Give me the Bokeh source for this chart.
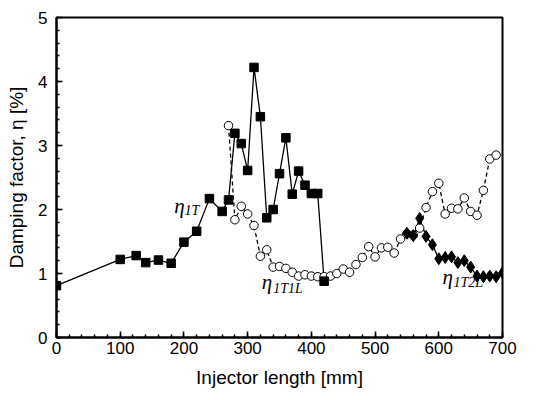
from bokeh.plotting import figure
from bokeh.models import Range1d, SingleIntervalTicker
from bokeh.core.properties import value
from bokeh.embed import file_html
from bokeh.resources import INLINE

# eta_1T (filled squares, solid line)
x_1t = [0, 100, 125, 140, 160, 180, 200, 220, 240, 260, 270, 280, 290, 300, 310,
        320, 330, 340, 350, 360, 370, 380, 390, 400, 410, 420]
y_1t = [0.81, 1.22, 1.28, 1.17, 1.21, 1.16, 1.49, 1.66, 2.17, 1.97, 2.15, 3.19, 3.03,
        2.61, 4.22, 3.45, 1.87, 2.00, 2.56, 3.12, 2.24, 2.60, 2.38, 2.25, 2.25, 0.88]

# eta_1T1L (open circles, dashed line)
x_1t1l = [270, 280, 290, 300, 310, 320, 330, 340, 350, 360, 370, 380, 390, 400, 410,
          420, 430, 440, 450, 460, 470, 480, 490, 500, 510, 520, 530, 540, 550, 560,
          570, 580, 590, 600, 610, 620, 630, 640, 650, 660, 670, 680, 690]
y_1t1l = [3.31, 1.84, 2.05, 1.93, 1.75, 1.27, 1.37, 1.10, 1.11, 1.08, 1.02, 0.96, 0.98,
          0.96, 0.95, 0.95, 0.96, 1.00, 1.07, 1.02, 1.14, 1.25, 1.42, 1.26, 1.40, 1.41,
          1.32, 1.54, 1.62, 1.60, 1.71, 2.03, 2.28, 2.41, 1.93, 2.02, 2.01, 2.18, 1.97,
          1.91, 2.30, 2.79, 2.85]

# eta_1T2L (filled diamonds, solid line)
x_1t2l = [550, 560, 570, 580, 590, 600, 610, 620, 630, 640, 650, 660, 670, 680, 690, 700]
y_1t2l = [1.63, 1.59, 1.86, 1.58, 1.45, 1.23, 1.25, 1.26, 1.17, 1.20, 1.10, 0.96,
          0.95, 0.96, 0.95, 1.01]

# curve labels (eta symbol and its subscript)
lab_eta_x = [185, 322, 606]
lab_eta_y = [2.05, 0.86, 0.94]
lab_sub_x = [201, 340, 623]
lab_sub_y = [1.99, 0.77, 0.86]
lab_sub = ["1T", "1T1L", "1T2L"]

p = figure(width=532, height=392, x_range=Range1d(0, 700), y_range=Range1d(0, 5),
           output_backend="svg", toolbar_location=None,
           min_border_left=56, min_border_right=30, min_border_top=17, min_border_bottom=55)
p.background_fill_color = "white"
p.border_fill_color = "white"
p.outline_line_color = "black"
p.outline_line_width = 2
p.xgrid.visible = False
p.ygrid.visible = False

p.xaxis.ticker = SingleIntervalTicker(interval=100, num_minor_ticks=5)
p.yaxis.ticker = SingleIntervalTicker(interval=1, num_minor_ticks=5)
for ax in (p.xaxis[0], p.yaxis[0]):
    ax.axis_line_width = 2
    ax.axis_line_color = "black"
    ax.major_tick_in = 6
    ax.major_tick_out = 0
    ax.minor_tick_in = 3
    ax.minor_tick_out = 0
    ax.major_tick_line_width = 1.5
    ax.minor_tick_line_width = 1.5
    ax.major_label_text_font = "Liberation Sans"
    ax.major_label_text_font_size = "17px"
    ax.major_label_text_color = "black"
    ax.axis_label_text_font = "Liberation Sans"
    ax.axis_label_text_font_size = "19px"
    ax.axis_label_text_font_style = "normal"
    ax.axis_label_text_color = "black"

p.xaxis.axis_label = "Injector length [mm]"
p.yaxis.axis_label = "Damping factor, η [%]"
p.xaxis.major_label_standoff = 4
p.xaxis.axis_label_standoff = 10
p.yaxis.major_label_standoff = 9
p.yaxis.axis_label_standoff = 8

p.line(x_1t1l, y_1t1l, line_color="black", line_width=1.3, line_dash="4 3")
p.line(x_1t, y_1t, line_color="black", line_width=1.3)
p.line(x_1t2l, y_1t2l, line_color="black", line_width=1.3)
p.scatter(x_1t1l, y_1t1l, marker="circle", size=8.5, fill_color="white",
          line_color="black", line_width=1)
p.scatter(x_1t, y_1t, marker="square", size=8.5, fill_color="black", line_color="black")
p.scatter(x_1t2l, y_1t2l, marker="diamond", size=12, fill_color="black", line_color="black")

p.text(x=lab_eta_x, y=lab_eta_y, text=["η"] * 3, text_font=value("Liberation Serif"),
       text_font_style="italic", text_font_size="21px", text_baseline="alphabetic",
       text_align="left", text_color="black")
p.text(x=lab_sub_x, y=lab_sub_y, text=lab_sub, text_font=value("Liberation Serif"),
       text_font_style="italic", text_font_size="14px", text_baseline="alphabetic",
       text_align="left", text_color="black")

open("out.html", "w").write(file_html(p, INLINE))
